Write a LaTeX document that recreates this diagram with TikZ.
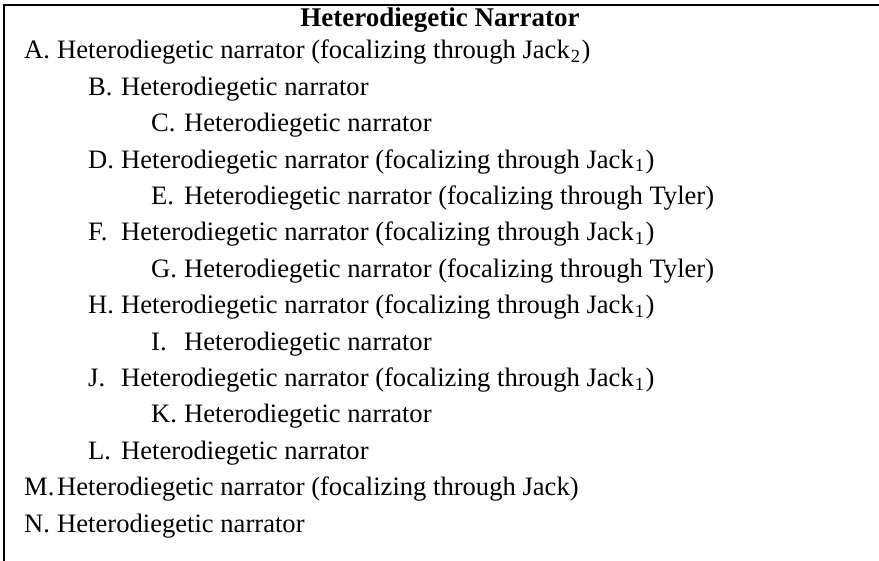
\documentclass[tikz,border=0pt]{standalone}
\usepackage{fontspec}
\setmainfont{Liberation Serif}
\begin{document}
\begin{tikzpicture}[x=1pt,y=-1pt,
  txt/.style={anchor=base west, inner sep=0pt, font=\fontsize{26.6}{30}\selectfont},
  ttl/.style={anchor=base, inner sep=0pt, font=\fontsize{27}{30}\selectfont\bfseries},
  frame/.style={line width=2.6pt, line cap=rect}]
\useasboundingbox (0,0) rectangle (879,561);
\coordinate (tr) at (879,5);
\coordinate (tl) at (4,5);
\coordinate (bl) at (4,561);
\draw[frame] (tr) -- (tl) -- (bl);
\newcommand{\lbl}[1]{\makebox[33pt][l]{#1}}
\newcommand{\subs}[1]{\kern1pt\raisebox{-0.3ex}{\fontsize{18.5}{18.5}\selectfont #1}\kern1.5pt}
\def\sp{36.4}
\node[ttl] (title) at (440,27) {Heterodiegetic Narrator};
\node[txt] (a) at (24,59) {\lbl{A.}Heterodiegetic narrator (focalizing through Jack\subs{2})};
\node[txt] (b) at (88,{59+1*\sp}) {\lbl{B.}Heterodiegetic narrator};
\node[txt] (c) at (151,{59+2*\sp}) {\lbl{C.}Heterodiegetic narrator};
\node[txt] (d) at (88,{59+3*\sp}) {\lbl{D.}Heterodiegetic narrator (focalizing through Jack\subs{1})};
\node[txt] (e) at (151,{59+4*\sp}) {\lbl{E.}Heterodiegetic narrator (focalizing through Tyler)};
\node[txt] (f) at (88,{59+5*\sp}) {\lbl{F.}Heterodiegetic narrator (focalizing through Jack\subs{1})};
\node[txt] (g) at (151,{59+6*\sp}) {\lbl{G.}Heterodiegetic narrator (focalizing through Tyler)};
\node[txt] (h) at (88,{59+7*\sp}) {\lbl{H.}Heterodiegetic narrator (focalizing through Jack\subs{1})};
\node[txt] (i) at (151,{59+8*\sp}) {\lbl{I.}Heterodiegetic narrator};
\node[txt] (j) at (88,{59+9*\sp}) {\lbl{J.}Heterodiegetic narrator (focalizing through Jack\subs{1})};
\node[txt] (k) at (151,{59+10*\sp}) {\lbl{K.}Heterodiegetic narrator};
\node[txt] (l) at (88,{59+11*\sp}) {\lbl{L.}Heterodiegetic narrator};
\node[txt] (m) at (24,{59+12*\sp}) {\lbl{M.}Heterodiegetic narrator (focalizing through Jack)};
\node[txt] (n) at (24,{59+13*\sp}) {\lbl{N.}Heterodiegetic narrator};
\end{tikzpicture}
\end{document}
